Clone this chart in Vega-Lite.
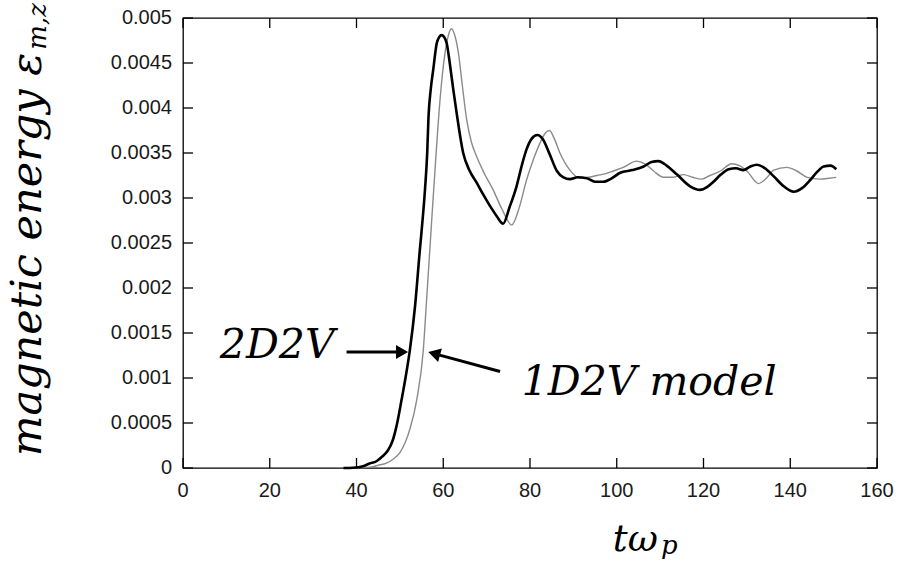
{
  "$schema": "https://vega.github.io/schema/vega-lite/v6.json",
  "width": 694,
  "height": 450,
  "autosize": {"type": "none"},
  "padding": {"left": 183, "top": 18, "right": 27, "bottom": 104},
  "background": "white",
  "config": {
    "view": {"stroke": "#000", "strokeWidth": 1.3},
    "text": {"font": "DejaVu Serif", "fontStyle": "italic", "color": "#000"}
  },
  "datasets": {
    "energy": [
      {"series": "2D2V", "t": 37, "e": 0},
      {"series": "2D2V", "t": 39.2, "e": 0.000003},
      {"series": "2D2V", "t": 41.5, "e": 0.00002},
      {"series": "2D2V", "t": 43, "e": 0.00005},
      {"series": "2D2V", "t": 44.6, "e": 0.000075},
      {"series": "2D2V", "t": 46, "e": 0.00013},
      {"series": "2D2V", "t": 47.3, "e": 0.0002},
      {"series": "2D2V", "t": 48.3, "e": 0.0003},
      {"series": "2D2V", "t": 49.2, "e": 0.00046},
      {"series": "2D2V", "t": 50.4, "e": 0.00076},
      {"series": "2D2V", "t": 51.4, "e": 0.00103},
      {"series": "2D2V", "t": 52.3, "e": 0.00131},
      {"series": "2D2V", "t": 53.5, "e": 0.0018},
      {"series": "2D2V", "t": 54.6, "e": 0.00242},
      {"series": "2D2V", "t": 55.0, "e": 0.00263},
      {"series": "2D2V", "t": 55.8, "e": 0.0031},
      {"series": "2D2V", "t": 56.3, "e": 0.0035},
      {"series": "2D2V", "t": 56.6, "e": 0.0039},
      {"series": "2D2V", "t": 57.1, "e": 0.0042},
      {"series": "2D2V", "t": 57.7, "e": 0.00443},
      {"series": "2D2V", "t": 58.5, "e": 0.00472},
      {"series": "2D2V", "t": 59.1, "e": 0.00479},
      {"series": "2D2V", "t": 59.6, "e": 0.00481},
      {"series": "2D2V", "t": 60.2, "e": 0.00479},
      {"series": "2D2V", "t": 60.8, "e": 0.00472},
      {"series": "2D2V", "t": 61.5, "e": 0.0045},
      {"series": "2D2V", "t": 62.3, "e": 0.00421},
      {"series": "2D2V", "t": 63.1, "e": 0.00394},
      {"series": "2D2V", "t": 64.6, "e": 0.0035},
      {"series": "2D2V", "t": 66, "e": 0.00331},
      {"series": "2D2V", "t": 67.7, "e": 0.00317},
      {"series": "2D2V", "t": 69.2, "e": 0.00304},
      {"series": "2D2V", "t": 70.8, "e": 0.00291},
      {"series": "2D2V", "t": 72.3, "e": 0.0028},
      {"series": "2D2V", "t": 73.8, "e": 0.002714},
      {"series": "2D2V", "t": 75.3, "e": 0.0029},
      {"series": "2D2V", "t": 76.9, "e": 0.00313},
      {"series": "2D2V", "t": 78.1, "e": 0.00336},
      {"series": "2D2V", "t": 79.2, "e": 0.00354},
      {"series": "2D2V", "t": 80.4, "e": 0.00366},
      {"series": "2D2V", "t": 81.7, "e": 0.0037},
      {"series": "2D2V", "t": 83, "e": 0.00365},
      {"series": "2D2V", "t": 84.5, "e": 0.00349},
      {"series": "2D2V", "t": 86.2, "e": 0.0033},
      {"series": "2D2V", "t": 87.7, "e": 0.00323},
      {"series": "2D2V", "t": 89.2, "e": 0.00321},
      {"series": "2D2V", "t": 91, "e": 0.00323},
      {"series": "2D2V", "t": 93.1, "e": 0.00322},
      {"series": "2D2V", "t": 95, "e": 0.00318},
      {"series": "2D2V", "t": 96.9, "e": 0.00318},
      {"series": "2D2V", "t": 98.9, "e": 0.00322},
      {"series": "2D2V", "t": 100.8, "e": 0.00328},
      {"series": "2D2V", "t": 103.5, "e": 0.00331},
      {"series": "2D2V", "t": 106.2, "e": 0.00335},
      {"series": "2D2V", "t": 108, "e": 0.0034},
      {"series": "2D2V", "t": 109.6, "e": 0.00341},
      {"series": "2D2V", "t": 111.5, "e": 0.00336},
      {"series": "2D2V", "t": 113.9, "e": 0.00326},
      {"series": "2D2V", "t": 116.9, "e": 0.00313},
      {"series": "2D2V", "t": 119.2, "e": 0.00309},
      {"series": "2D2V", "t": 120.8, "e": 0.00312},
      {"series": "2D2V", "t": 122.3, "e": 0.00318},
      {"series": "2D2V", "t": 124, "e": 0.00326},
      {"series": "2D2V", "t": 125.8, "e": 0.00332},
      {"series": "2D2V", "t": 127.5, "e": 0.00333},
      {"series": "2D2V", "t": 129.2, "e": 0.00331},
      {"series": "2D2V", "t": 130.8, "e": 0.00335},
      {"series": "2D2V", "t": 132.3, "e": 0.00337},
      {"series": "2D2V", "t": 134.2, "e": 0.00333},
      {"series": "2D2V", "t": 136.2, "e": 0.00324},
      {"series": "2D2V", "t": 138.5, "e": 0.00313},
      {"series": "2D2V", "t": 140.8, "e": 0.00307},
      {"series": "2D2V", "t": 142.7, "e": 0.00311},
      {"series": "2D2V", "t": 144.6, "e": 0.0032},
      {"series": "2D2V", "t": 146.2, "e": 0.00329},
      {"series": "2D2V", "t": 147.7, "e": 0.00335},
      {"series": "2D2V", "t": 149.3, "e": 0.00336},
      {"series": "2D2V", "t": 150.6, "e": 0.00332},
      {"series": "1D2V", "t": 38, "e": 0},
      {"series": "1D2V", "t": 41, "e": 0.000004},
      {"series": "1D2V", "t": 43.1, "e": 0.00001},
      {"series": "1D2V", "t": 45, "e": 0.00003},
      {"series": "1D2V", "t": 46.9, "e": 0.000055},
      {"series": "1D2V", "t": 48.5, "e": 0.0001},
      {"series": "1D2V", "t": 50, "e": 0.00017},
      {"series": "1D2V", "t": 51.2, "e": 0.00028},
      {"series": "1D2V", "t": 52.3, "e": 0.00043},
      {"series": "1D2V", "t": 53.9, "e": 0.00076},
      {"series": "1D2V", "t": 55.4, "e": 0.00131},
      {"series": "1D2V", "t": 56.2, "e": 0.0019},
      {"series": "1D2V", "t": 56.9, "e": 0.00242},
      {"series": "1D2V", "t": 57.4, "e": 0.0028},
      {"series": "1D2V", "t": 58.1, "e": 0.00331},
      {"series": "1D2V", "t": 59.2, "e": 0.00406},
      {"series": "1D2V", "t": 60.4, "e": 0.00461},
      {"series": "1D2V", "t": 61.2, "e": 0.00481},
      {"series": "1D2V", "t": 61.9, "e": 0.00488},
      {"series": "1D2V", "t": 62.7, "e": 0.0048},
      {"series": "1D2V", "t": 63.5, "e": 0.00461},
      {"series": "1D2V", "t": 64.4, "e": 0.00425},
      {"series": "1D2V", "t": 65.4, "e": 0.00387},
      {"series": "1D2V", "t": 66.5, "e": 0.00362},
      {"series": "1D2V", "t": 67.7, "e": 0.00346},
      {"series": "1D2V", "t": 69.5, "e": 0.00327},
      {"series": "1D2V", "t": 71.5, "e": 0.00309},
      {"series": "1D2V", "t": 73.5, "e": 0.00288},
      {"series": "1D2V", "t": 75.8, "e": 0.0027},
      {"series": "1D2V", "t": 77.5, "e": 0.00289},
      {"series": "1D2V", "t": 79.2, "e": 0.0032},
      {"series": "1D2V", "t": 80.8, "e": 0.00343},
      {"series": "1D2V", "t": 82.3, "e": 0.00361},
      {"series": "1D2V", "t": 83.5, "e": 0.00372},
      {"series": "1D2V", "t": 84.5, "e": 0.00375},
      {"series": "1D2V", "t": 85.6, "e": 0.00366},
      {"series": "1D2V", "t": 86.9, "e": 0.0035},
      {"series": "1D2V", "t": 89.2, "e": 0.00331},
      {"series": "1D2V", "t": 91.5, "e": 0.00322},
      {"series": "1D2V", "t": 93.5, "e": 0.00323},
      {"series": "1D2V", "t": 95.4, "e": 0.00325},
      {"series": "1D2V", "t": 97.5, "e": 0.00327},
      {"series": "1D2V", "t": 99.2, "e": 0.0033},
      {"series": "1D2V", "t": 101.5, "e": 0.00334},
      {"series": "1D2V", "t": 104.6, "e": 0.00341},
      {"series": "1D2V", "t": 106.5, "e": 0.00338},
      {"series": "1D2V", "t": 108.5, "e": 0.0033},
      {"series": "1D2V", "t": 110.8, "e": 0.00323},
      {"series": "1D2V", "t": 113, "e": 0.00323},
      {"series": "1D2V", "t": 115.4, "e": 0.00326},
      {"series": "1D2V", "t": 117.5, "e": 0.00323},
      {"series": "1D2V", "t": 119.6, "e": 0.00321},
      {"series": "1D2V", "t": 121.5, "e": 0.00325},
      {"series": "1D2V", "t": 123.9, "e": 0.0033},
      {"series": "1D2V", "t": 126.5, "e": 0.00338},
      {"series": "1D2V", "t": 128.3, "e": 0.00336},
      {"series": "1D2V", "t": 130, "e": 0.0033},
      {"series": "1D2V", "t": 132.7, "e": 0.00316},
      {"series": "1D2V", "t": 134.5, "e": 0.00322},
      {"series": "1D2V", "t": 136.2, "e": 0.00331},
      {"series": "1D2V", "t": 139.2, "e": 0.00334},
      {"series": "1D2V", "t": 141.5, "e": 0.0033},
      {"series": "1D2V", "t": 143.9, "e": 0.00323},
      {"series": "1D2V", "t": 146.9, "e": 0.00321},
      {"series": "1D2V", "t": 149, "e": 0.00322},
      {"series": "1D2V", "t": 150.6, "e": 0.00323}
    ],
    "xticks": [
      {"t": 0}, {"t": 20}, {"t": 40}, {"t": 60}, {"t": 80}, {"t": 100}, {"t": 120}, {"t": 140}, {"t": 160}
    ],
    "yticks": [
      {"e": 0}, {"e": 0.0005}, {"e": 0.001}, {"e": 0.0015}, {"e": 0.002}, {"e": 0.0025},
      {"e": 0.003}, {"e": 0.0035}, {"e": 0.004}, {"e": 0.0045}, {"e": 0.005}
    ],
    "arrows": [
      {"label": "2D2V", "t0": 37.7, "e0": 0.001289, "t1": 50.5, "e1": 0.001289},
      {"label": "1D2V", "t0": 73.1, "e0": 0.001073, "t1": 57.9, "e1": 0.001271}
    ],
    "labels": [
      {"text": "2D2V", "t": 8.5, "e": 0.001222},
      {"text": "1D2V model", "t": 78.1, "e": 0.000814}
    ],
    "titles": [
      {"axis": "y", "text": "magnetic energy ε", "t": -32.7, "e": 0.004614},
      {"axis": "x", "text": "tω", "t": 99.1, "e": -0.000922}
    ],
    "subscripts": [
      {"axis": "y", "text": "m,z", "t": -31.5, "e": 0.004648},
      {"axis": "x", "text": "p", "t": 110.2, "e": -0.00096}
    ]
  },
  "layer": [
    {
      "data": {"name": "energy"},
      "transform": [{"filter": "datum.series === '1D2V'"}],
      "mark": {"type": "line", "interpolate": "monotone", "color": "#8a8a8a", "strokeWidth": 1.4},
      "encoding": {
        "x": {
          "field": "t",
          "type": "quantitative",
          "scale": {"domain": [0, 160], "nice": false},
          "axis": null
        },
        "y": {
          "field": "e",
          "type": "quantitative",
          "scale": {"domain": [0, 0.005], "nice": false},
          "axis": null
        }
      }
    },
    {
      "data": {"name": "energy"},
      "transform": [{"filter": "datum.series === '2D2V'"}],
      "mark": {"type": "line", "interpolate": "monotone", "color": "#000", "strokeWidth": 2.6},
      "encoding": {
        "x": {"field": "t", "type": "quantitative"},
        "y": {"field": "e", "type": "quantitative"}
      }
    },
    {
      "data": {"name": "xticks"},
      "mark": {"type": "rule", "color": "#000", "strokeWidth": 1.3, "y2Offset": -10},
      "encoding": {
        "x": {"field": "t", "type": "quantitative"},
        "y": {"datum": 0, "type": "quantitative"},
        "y2": {"datum": 0}
      }
    },
    {
      "data": {"name": "xticks"},
      "mark": {"type": "rule", "color": "#000", "strokeWidth": 1.3, "y2Offset": 10},
      "encoding": {
        "x": {"field": "t", "type": "quantitative"},
        "y": {"datum": 0.005, "type": "quantitative"},
        "y2": {"datum": 0.005}
      }
    },
    {
      "data": {"name": "yticks"},
      "mark": {"type": "rule", "color": "#000", "strokeWidth": 1.3, "x2Offset": 10},
      "encoding": {
        "x": {"datum": 0, "type": "quantitative"},
        "x2": {"datum": 0},
        "y": {"field": "e", "type": "quantitative"}
      }
    },
    {
      "data": {"name": "yticks"},
      "mark": {"type": "rule", "color": "#000", "strokeWidth": 1.3, "x2Offset": -10},
      "encoding": {
        "x": {"datum": 160, "type": "quantitative"},
        "x2": {"datum": 160},
        "y": {"field": "e", "type": "quantitative"}
      }
    },
    {
      "data": {"name": "xticks"},
      "mark": {"type": "text", "font": "Liberation Sans", "fontStyle": "normal", "fontSize": 20, "color": "#1a1a1a", "align": "center", "baseline": "top", "dy": 13},
      "encoding": {
        "x": {"field": "t", "type": "quantitative"},
        "y": {"datum": 0, "type": "quantitative"},
        "text": {"field": "t", "type": "quantitative", "format": "d"}
      }
    },
    {
      "data": {"name": "yticks"},
      "mark": {"type": "text", "font": "Liberation Sans", "fontStyle": "normal", "fontSize": 20, "color": "#1a1a1a", "align": "right", "baseline": "middle", "dx": -11},
      "encoding": {
        "x": {"datum": 0, "type": "quantitative"},
        "y": {"field": "e", "type": "quantitative"},
        "text": {"field": "e", "type": "quantitative", "format": "~g"}
      }
    },
    {
      "data": {"name": "arrows"},
      "mark": {"type": "rule", "color": "#000", "strokeWidth": 3},
      "encoding": {
        "x": {"field": "t0", "type": "quantitative"},
        "y": {"field": "e0", "type": "quantitative"},
        "x2": {"field": "t1"},
        "y2": {"field": "e1"}
      }
    },
    {
      "data": {"name": "arrows"},
      "transform": [{"filter": "datum.label === '2D2V'"}],
      "mark": {"type": "point", "shape": "triangle-up", "angle": 90, "size": 196, "filled": true, "opacity": 1, "color": "#000", "strokeWidth": 0},
      "encoding": {
        "x": {"field": "t1", "type": "quantitative"},
        "y": {"field": "e1", "type": "quantitative"}
      }
    },
    {
      "data": {"name": "arrows"},
      "transform": [{"filter": "datum.label === '1D2V'"}],
      "mark": {"type": "point", "shape": "triangle-up", "angle": 285.5, "size": 196, "filled": true, "opacity": 1, "color": "#000", "strokeWidth": 0},
      "encoding": {
        "x": {"field": "t1", "type": "quantitative"},
        "y": {"field": "e1", "type": "quantitative"}
      }
    },
    {
      "data": {"name": "labels"},
      "mark": {"type": "text", "fontSize": 41, "align": "left", "baseline": "alphabetic"},
      "encoding": {
        "x": {"field": "t", "type": "quantitative"},
        "y": {"field": "e", "type": "quantitative"},
        "text": {"field": "text"}
      }
    },
    {
      "data": {"name": "titles"},
      "transform": [{"filter": "datum.axis === 'y'"}],
      "mark": {"type": "text", "fontSize": 43, "angle": 270, "align": "right", "baseline": "alphabetic"},
      "encoding": {
        "x": {"field": "t", "type": "quantitative"},
        "y": {"field": "e", "type": "quantitative"},
        "text": {"field": "text"}
      }
    },
    {
      "data": {"name": "titles"},
      "transform": [{"filter": "datum.axis === 'x'"}],
      "mark": {"type": "text", "fontSize": 37, "align": "left", "baseline": "alphabetic"},
      "encoding": {
        "x": {"field": "t", "type": "quantitative"},
        "y": {"field": "e", "type": "quantitative"},
        "text": {"field": "text"}
      }
    },
    {
      "data": {"name": "subscripts"},
      "transform": [{"filter": "datum.axis === 'y'"}],
      "mark": {"type": "text", "fontSize": 26, "angle": 270, "align": "left", "baseline": "alphabetic"},
      "encoding": {
        "x": {"field": "t", "type": "quantitative"},
        "y": {"field": "e", "type": "quantitative"},
        "text": {"field": "text"}
      }
    },
    {
      "data": {"name": "subscripts"},
      "transform": [{"filter": "datum.axis === 'x'"}],
      "mark": {"type": "text", "fontSize": 26, "align": "left", "baseline": "alphabetic"},
      "encoding": {
        "x": {"field": "t", "type": "quantitative"},
        "y": {"field": "e", "type": "quantitative"},
        "text": {"field": "text"}
      }
    }
  ]
}
